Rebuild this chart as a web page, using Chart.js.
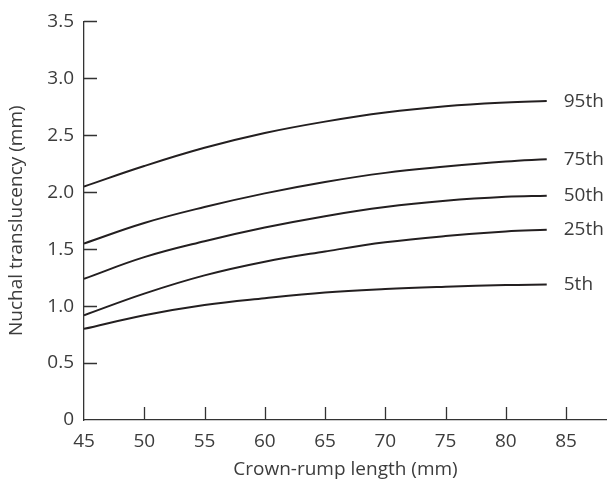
<!DOCTYPE html>
<html>
<head>
<meta charset="utf-8">
<script src="https://cdn.jsdelivr.net/npm/chart.js@4"></script>
<style>
  html, body { margin: 0; padding: 0; background: #fff; }
  #wrap { width: 607px; height: 483px; }
</style>
</head>
<body>
<div id="wrap"><canvas id="ntChart"></canvas></div>
<script>
// Nuchal translucency centiles against crown-rump length
const crl = [45, 50, 55, 60, 65, 70, 75, 80, 83.4];
const centileNames = ["95th", "75th", "50th", "25th", "5th"];
const p95 = [2.05, 2.23, 2.39, 2.52, 2.62, 2.70, 2.755, 2.788, 2.80];
const p75 = [1.55, 1.73, 1.87, 1.99, 2.09, 2.17, 2.225, 2.27, 2.29];
const p50 = [1.24, 1.43, 1.57, 1.69, 1.79, 1.87, 1.925, 1.96, 1.97];
const p25 = [0.92, 1.11, 1.27, 1.39, 1.48, 1.56, 1.615, 1.655, 1.67];
const p05 = [0.80, 0.92, 1.01, 1.07, 1.12, 1.15, 1.17, 1.185, 1.19];
const xTicks = [45, 50, 55, 60, 65, 70, 75, 80, 85];
const yTicks = [0, 0.5, 1.0, 1.5, 2.0, 2.5, 3.0, 3.5];

const lineColor = "#231f20";
const textColor = "#3c3c3c";
const fontFamily = "'Open Sans', sans-serif";
const fontSize = 19;

function toPoints(values) {
  return values.map(function (v, i) {
    return { x: crl[i], y: v };
  });
}

// inward tick marks and the centile labels at the line ends
const extrasPlugin = {
  id: "extras",
  afterDraw: function (chart) {
    const ctx = chart.ctx;
    const xs = chart.scales.x;
    const ys = chart.scales.y;
    const area = chart.chartArea;
    ctx.save();
    ctx.strokeStyle = "#333";
    ctx.lineWidth = 1.3;
    ctx.beginPath();
    xTicks.forEach(function (t) {
      if (t === xs.min) return;
      const px = Math.round(xs.getPixelForValue(t)) + 0.5;
      ctx.moveTo(px, area.bottom);
      ctx.lineTo(px, area.bottom - 13);
    });
    yTicks.forEach(function (t) {
      if (t === 0) return;
      const py = Math.round(ys.getPixelForValue(t)) + 0.5;
      ctx.moveTo(area.left, py);
      ctx.lineTo(area.left + 13, py);
    });
    ctx.stroke();

    ctx.fillStyle = textColor;
    ctx.font = fontSize + "px " + fontFamily;
    ctx.textAlign = "left";
    ctx.textBaseline = "middle";
    chart.data.datasets.forEach(function (ds, i) {
      const meta = chart.getDatasetMeta(i);
      const last = meta.data[meta.data.length - 1];
      ctx.fillText(ds.label, last.x + 17, last.y);
    });
    ctx.restore();
  },
};

document.addEventListener("DOMContentLoaded", function () {
  const series = [p95, p75, p50, p25, p05];
  new Chart(document.getElementById("ntChart"), {
    type: "line",
    data: {
      datasets: series.map(function (vals, i) {
        return {
          label: centileNames[i],
          data: toPoints(vals),
          borderColor: lineColor,
          borderWidth: 2,
          pointRadius: 0,
          tension: 0.4,
          fill: false,
        };
      }),
    },
    options: {
      responsive: true,
      maintainAspectRatio: false,
      animation: false,
      layout: { padding: { top: 17, right: 0, bottom: 0, left: 0 } },
      plugins: {
        legend: { display: false },
        tooltip: { enabled: false },
      },
      scales: {
        x: {
          type: "linear",
          min: 45,
          max: 88.4,
          afterFit: function (scale) {
            scale.height = 63;
          },
          grid: { display: false, drawTicks: false },
          border: { display: true, color: "#333", width: 1.3 },
          ticks: {
            stepSize: 5,
            includeBounds: false,
            padding: 10,
            color: textColor,
            font: { family: fontFamily, size: fontSize },
          },
          title: {
            display: true,
            text: "Crown-rump length (mm)",
            color: textColor,
            font: { family: fontFamily, size: fontSize },
            padding: { top: 0, bottom: 2 },
          },
        },
        y: {
          min: 0,
          max: 3.5,
          afterFit: function (scale) {
            scale.width = 84;
          },
          grid: { display: false, drawTicks: false },
          border: { display: true, color: "#333", width: 1.3 },
          ticks: {
            stepSize: 0.5,
            padding: 10,
            color: textColor,
            font: { family: fontFamily, size: fontSize },
            callback: function (v) {
              return v === 0 ? "0" : v.toFixed(1);
            },
          },
          title: {
            display: true,
            text: "Nuchal translucency (mm)",
            color: textColor,
            font: { family: fontFamily, size: fontSize },
            padding: { top: 5, bottom: 0 },
          },
        },
      },
    },
    plugins: [extrasPlugin],
  });
});
</script>
</body>
</html>
